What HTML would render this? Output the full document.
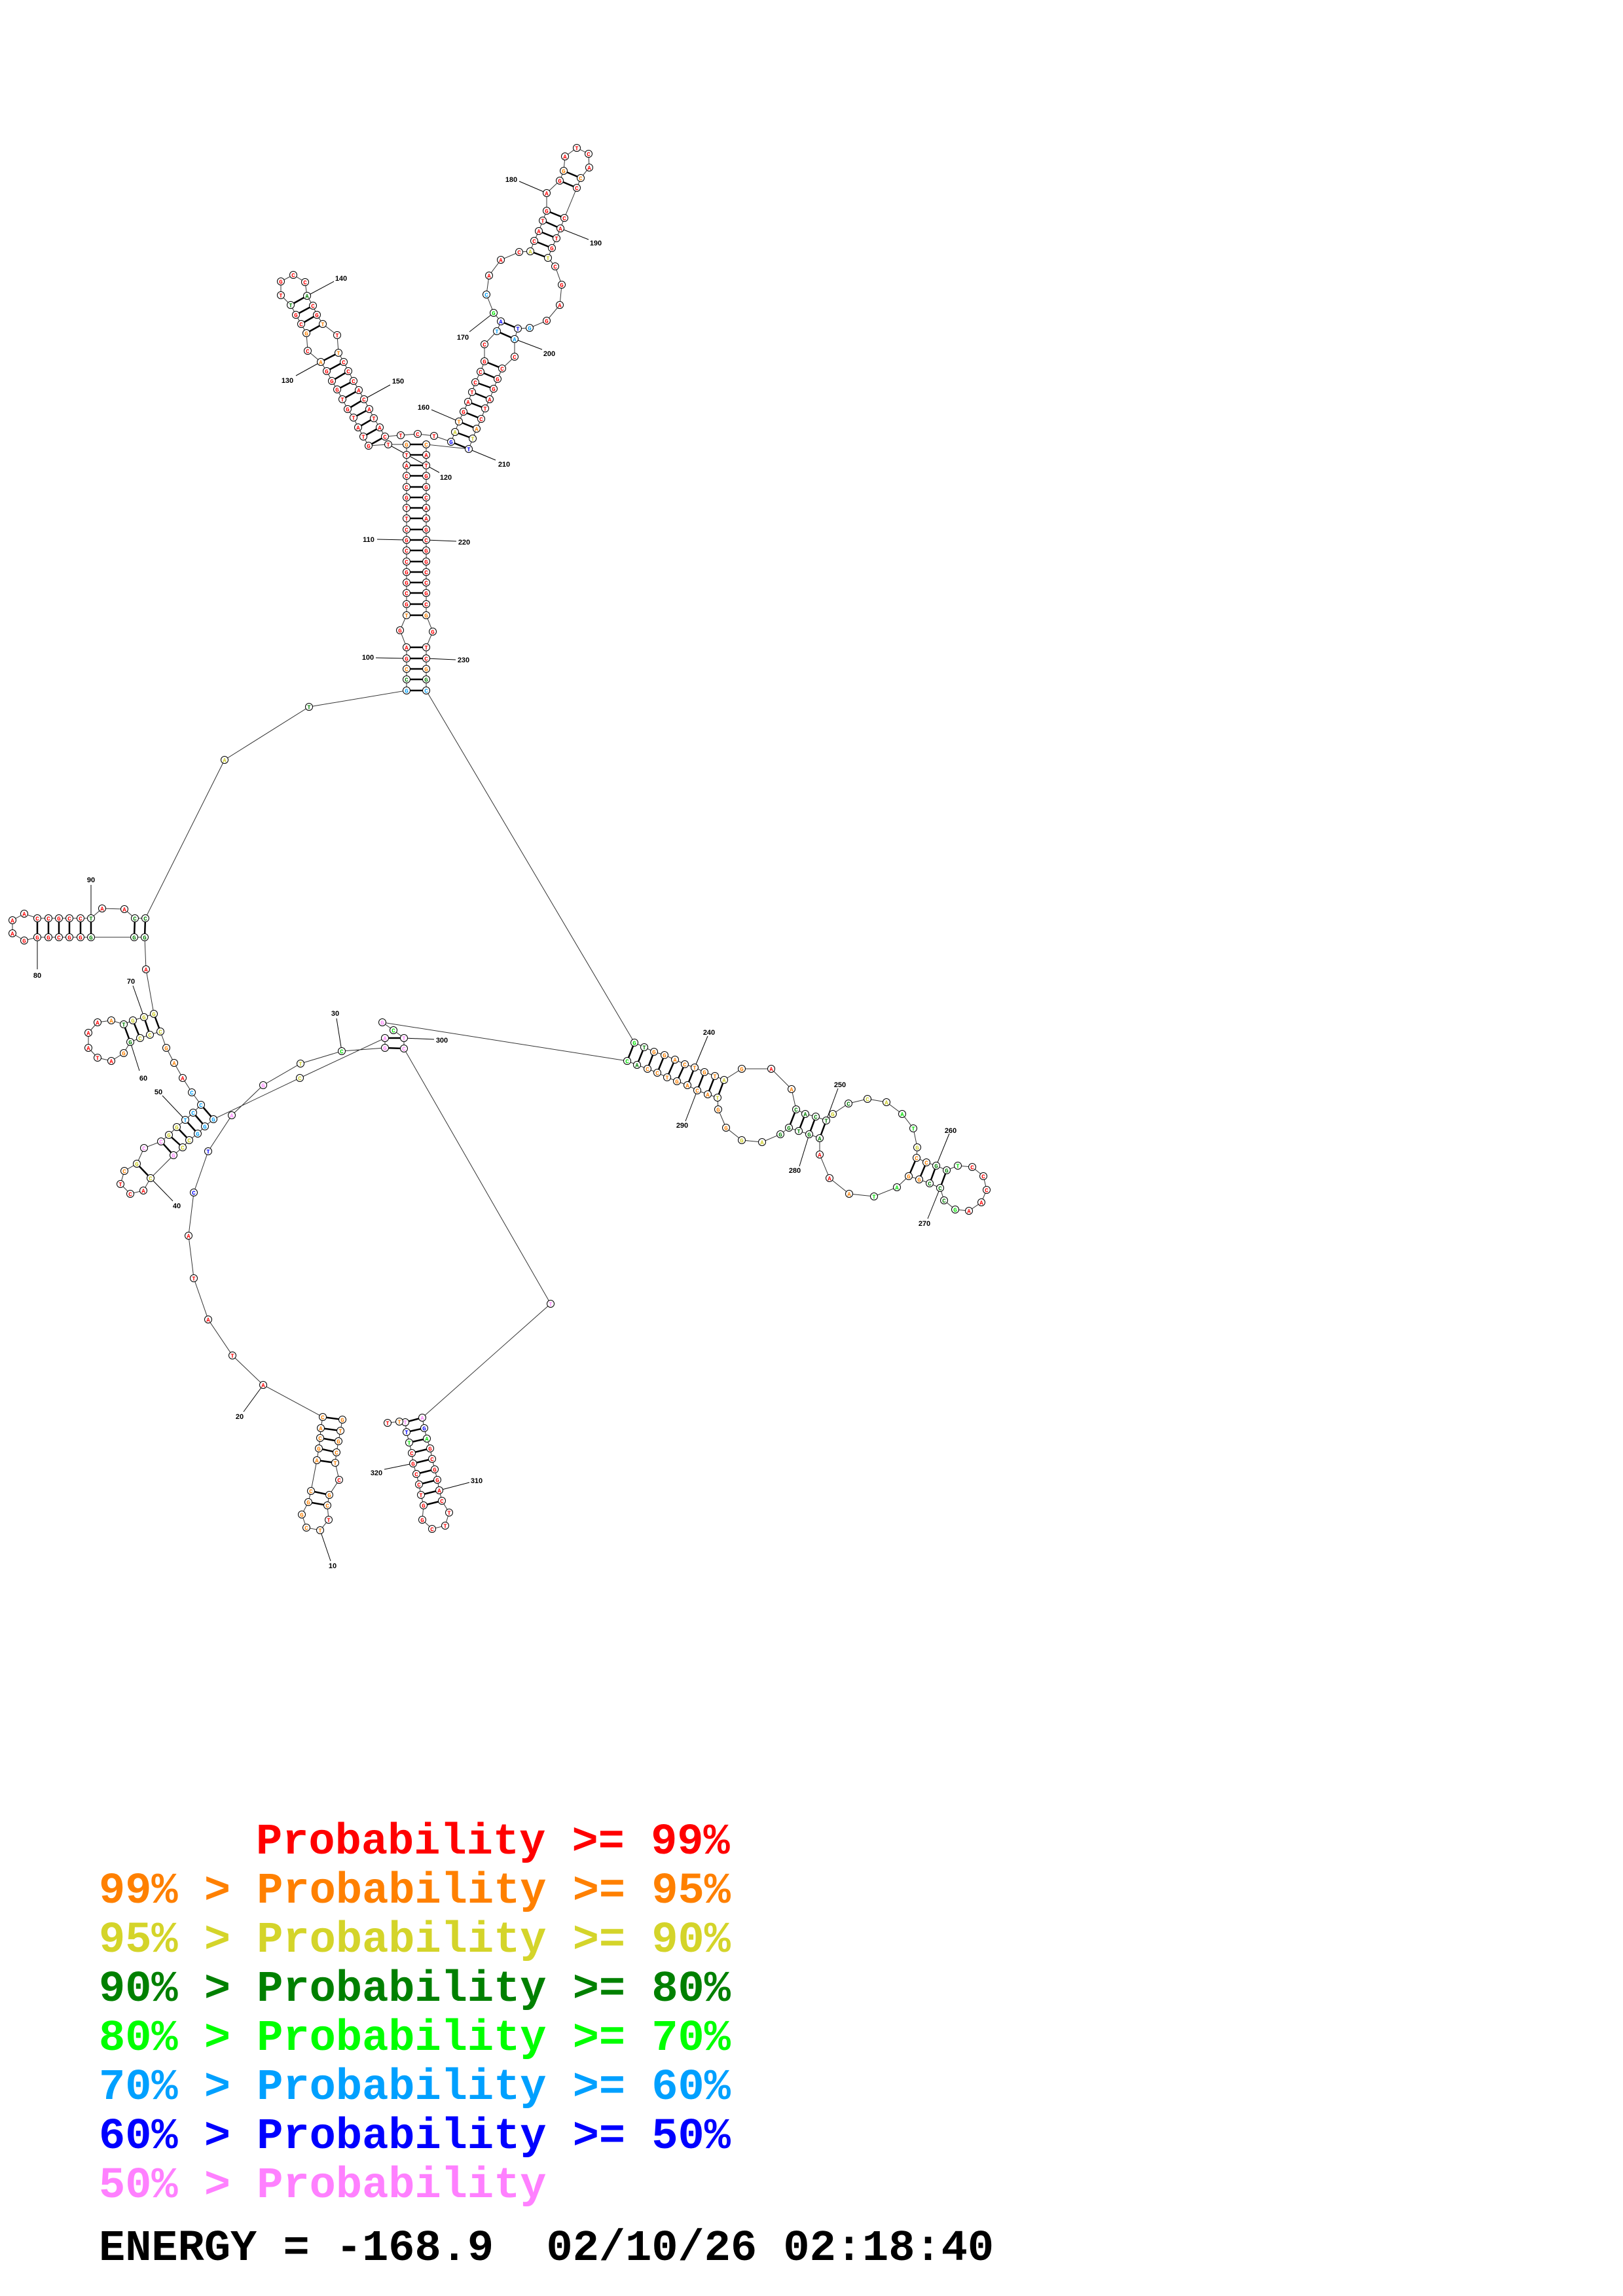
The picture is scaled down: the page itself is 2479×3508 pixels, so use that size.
<!DOCTYPE html>
<html><head><meta charset="utf-8"><style>
html,body{margin:0;padding:0;background:#fff}
svg{display:block}
circle{fill:#fff;stroke:#000;stroke-width:1}
.n text{font:bold 9px "Liberation Mono",monospace;text-anchor:middle}
.r{fill:#f00}.o{fill:#ff8000}.y{fill:#cccc22}.g{fill:#008000}.l{fill:#00e000}.b{fill:#00a0ff}.u{fill:#0000ff}.p{fill:#ff80ff}
.lb{font:bold 11px "Liberation Sans",sans-serif;text-anchor:middle;fill:#000}
.lg{font:bold 67px "Liberation Mono",monospace;white-space:pre}
</style></head><body>
<svg width="2479" height="3508" viewBox="0 0 2479 3508" xmlns="http://www.w3.org/2000/svg">
<polyline fill="none" stroke="#333" stroke-width="1" points="523,2169 520,2186 517,2202 514,2219 512,2235 518,2261 503,2284 500,2300 502,2322 489,2338 468,2334 461,2314 471,2295 475,2278 484,2231 487,2213 489,2197 490,2182 493,2165 402,2116 355,2071 318,2016 296,1953 288,1888 296,1822 318,1759 354,1704 402,1658 459,1625 522,1606 588,1601 588,1586 458,1647 326,1710 313,1721 302,1732 289,1742 279,1753 265,1765 230,1800 219,1819 199,1824 184,1809 190,1789 209,1778 220,1754 246,1744 258,1734 270,1722 283,1711 295,1700 307,1688 293,1669 279,1647 266,1624 254,1601 245,1576 229,1581 214,1586 199,1592 189,1609 170,1621 149,1616 135,1601 135,1578 149,1562 170,1559 189,1565 203,1559 220,1554 235,1549 223,1481 221,1432 205,1432 139,1432 123,1432 106,1432 90,1432 74,1432 57,1432 37,1437 19,1426 19,1406 37,1396 57,1403 74,1403 90,1403 106,1403 123,1403 139,1403 156,1388 190,1389 206,1403 222,1403 343,1161 472,1080 621,1055 621,1038 621,1022 621,1006 621,989 611,963 621,940 621,923 621,906 621,890 621,874 621,858 621,841 621,825 621,809 621,792 621,776 621,760 621,744 621,727 621,711 621,695 621,679 593,679 563,681 555,667 547,653 540,638 531,625 523,610 515,595 507,582 499,567 490,553 470,536 468,509 460,495 452,481 444,466 429,451 429,430 448,420 466,431 469,452 478,467 484,481 493,495 515,512 517,539 525,553 532,567 540,582 548,596 556,610 564,625 571,639 580,653 588,667 612,665 638,663 663,666 689,675 695,660 701,644 708,629 715,614 721,599 726,584 734,568 740,552 740,526 759,506 765,491 754,478 743,450 747,421 765,397 793,385 810,384 816,368 823,353 829,337 835,322 835,295 855,276 861,261 863,239 881,226 899,235 900,256 887,272 881,287 862,333 856,349 850,364 843,379 837,394 848,407 858,435 855,466 835,490 809,501 791,502 786,518 786,545 767,563 760,579 754,594 748,610 741,624 735,640 728,655 722,670 716,686 651,679 651,695 651,711 651,727 651,744 651,760 651,776 651,792 651,809 651,825 651,841 651,858 651,874 651,890 651,906 651,923 651,940 661,965 651,989 651,1006 651,1022 651,1038 651,1055 969,1593 984,1600 999,1607 1015,1612 1031,1619 1046,1626 1061,1631 1076,1638 1092,1644 1106,1650 1133,1633 1178,1633 1209,1664 1216,1695 1230,1702 1246,1706 1262,1712 1272,1702 1296,1686 1325,1679 1354,1684 1378,1702 1395,1724 1401,1753 1400,1769 1415,1776 1430,1781 1446,1788 1463,1781 1485,1783 1502,1797 1507,1818 1499,1837 1480,1850 1459,1848 1442,1834 1436,1815 1420,1808 1404,1802 1388,1797 1370,1814 1335,1828 1297,1824 1267,1800 1252,1764 1252,1739 1236,1733 1220,1728 1205,1723 1192,1733 1164,1745 1133,1742 1109,1723 1097,1695 1096,1677 1081,1672 1065,1666 1050,1658 1034,1652 1019,1646 1004,1639 989,1633 973,1627 958,1621 584,1562 601,1574 617,1586 617,1602 841,1992 645,2166 648,2182 652,2198 657,2213 660,2229 664,2245 668,2261 671,2277 675,2293 686,2311 680,2331 660,2336 645,2322 647,2300 643,2284 640,2268 636,2252 631,2236 629,2220 625,2204 621,2188 619,2173 610,2172 592,2174"/>
<g stroke="#000" stroke-width="2.5">
<line x1="493" y1="2165" x2="523" y2="2169"/><line x1="490" y1="2182" x2="520" y2="2186"/><line x1="489" y1="2197" x2="517" y2="2202"/><line x1="487" y1="2213" x2="514" y2="2219"/><line x1="484" y1="2231" x2="512" y2="2235"/><line x1="475" y1="2278" x2="503" y2="2284"/><line x1="471" y1="2295" x2="500" y2="2300"/>
<line x1="588" y1="1601" x2="617" y2="1602"/><line x1="588" y1="1586" x2="617" y2="1586"/>
<line x1="326" y1="1710" x2="307" y2="1688"/><line x1="313" y1="1721" x2="295" y2="1700"/><line x1="302" y1="1732" x2="283" y2="1711"/><line x1="289" y1="1742" x2="270" y2="1722"/><line x1="279" y1="1753" x2="258" y2="1734"/><line x1="265" y1="1765" x2="246" y2="1744"/><line x1="230" y1="1800" x2="209" y2="1778"/>
<line x1="245" y1="1576" x2="235" y2="1549"/><line x1="229" y1="1581" x2="220" y2="1554"/><line x1="214" y1="1586" x2="203" y2="1559"/><line x1="199" y1="1592" x2="189" y2="1565"/>
<line x1="221" y1="1432" x2="222" y2="1403"/><line x1="205" y1="1432" x2="206" y2="1403"/><line x1="139" y1="1432" x2="139" y2="1403"/><line x1="123" y1="1432" x2="123" y2="1403"/><line x1="106" y1="1432" x2="106" y2="1403"/><line x1="90" y1="1432" x2="90" y2="1403"/><line x1="74" y1="1432" x2="74" y2="1403"/><line x1="57" y1="1432" x2="57" y2="1403"/>
<line x1="621" y1="1055" x2="651" y2="1055"/><line x1="621" y1="1038" x2="651" y2="1038"/><line x1="621" y1="1022" x2="651" y2="1022"/><line x1="621" y1="1006" x2="651" y2="1006"/><line x1="621" y1="989" x2="651" y2="989"/>
<line x1="621" y1="940" x2="651" y2="940"/><line x1="621" y1="923" x2="651" y2="923"/><line x1="621" y1="906" x2="651" y2="906"/><line x1="621" y1="890" x2="651" y2="890"/><line x1="621" y1="874" x2="651" y2="874"/><line x1="621" y1="858" x2="651" y2="858"/><line x1="621" y1="841" x2="651" y2="841"/><line x1="621" y1="825" x2="651" y2="825"/><line x1="621" y1="809" x2="651" y2="809"/><line x1="621" y1="792" x2="651" y2="792"/><line x1="621" y1="776" x2="651" y2="776"/><line x1="621" y1="760" x2="651" y2="760"/><line x1="621" y1="744" x2="651" y2="744"/><line x1="621" y1="727" x2="651" y2="727"/><line x1="621" y1="711" x2="651" y2="711"/><line x1="621" y1="695" x2="651" y2="695"/><line x1="621" y1="679" x2="651" y2="679"/>
<line x1="563" y1="681" x2="588" y2="667"/><line x1="555" y1="667" x2="580" y2="653"/><line x1="547" y1="653" x2="571" y2="639"/><line x1="540" y1="638" x2="564" y2="625"/><line x1="531" y1="625" x2="556" y2="610"/><line x1="523" y1="610" x2="548" y2="596"/><line x1="515" y1="595" x2="540" y2="582"/><line x1="507" y1="582" x2="532" y2="567"/><line x1="499" y1="567" x2="525" y2="553"/><line x1="490" y1="553" x2="517" y2="539"/>
<line x1="468" y1="509" x2="493" y2="495"/><line x1="460" y1="495" x2="484" y2="481"/><line x1="452" y1="481" x2="478" y2="467"/><line x1="444" y1="466" x2="469" y2="452"/>
<line x1="689" y1="675" x2="716" y2="686"/><line x1="695" y1="660" x2="722" y2="670"/><line x1="701" y1="644" x2="728" y2="655"/><line x1="708" y1="629" x2="735" y2="640"/><line x1="715" y1="614" x2="741" y2="624"/><line x1="721" y1="599" x2="748" y2="610"/><line x1="726" y1="584" x2="754" y2="594"/><line x1="734" y1="568" x2="760" y2="579"/><line x1="740" y1="552" x2="767" y2="563"/>
<line x1="759" y1="506" x2="786" y2="518"/><line x1="765" y1="491" x2="791" y2="502"/>
<line x1="810" y1="384" x2="837" y2="394"/><line x1="816" y1="368" x2="843" y2="379"/><line x1="823" y1="353" x2="850" y2="364"/><line x1="829" y1="337" x2="856" y2="349"/><line x1="835" y1="322" x2="862" y2="333"/><line x1="855" y1="276" x2="881" y2="287"/><line x1="861" y1="261" x2="887" y2="272"/>
<line x1="969" y1="1593" x2="958" y2="1621"/><line x1="984" y1="1600" x2="973" y2="1627"/><line x1="999" y1="1607" x2="989" y2="1633"/><line x1="1015" y1="1612" x2="1004" y2="1639"/><line x1="1031" y1="1619" x2="1019" y2="1646"/><line x1="1046" y1="1626" x2="1034" y2="1652"/><line x1="1061" y1="1631" x2="1050" y2="1658"/><line x1="1076" y1="1638" x2="1065" y2="1666"/><line x1="1092" y1="1644" x2="1081" y2="1672"/><line x1="1106" y1="1650" x2="1096" y2="1677"/>
<line x1="1216" y1="1695" x2="1205" y2="1723"/><line x1="1230" y1="1702" x2="1220" y2="1728"/><line x1="1246" y1="1706" x2="1236" y2="1733"/><line x1="1262" y1="1712" x2="1252" y2="1739"/>
<line x1="1400" y1="1769" x2="1388" y2="1797"/><line x1="1415" y1="1776" x2="1404" y2="1802"/><line x1="1430" y1="1781" x2="1420" y2="1808"/><line x1="1446" y1="1788" x2="1436" y2="1815"/>
<line x1="645" y1="2166" x2="619" y2="2173"/><line x1="648" y1="2182" x2="621" y2="2188"/><line x1="652" y1="2198" x2="625" y2="2204"/><line x1="657" y1="2213" x2="629" y2="2220"/><line x1="660" y1="2229" x2="631" y2="2236"/><line x1="664" y1="2245" x2="636" y2="2252"/><line x1="668" y1="2261" x2="640" y2="2268"/><line x1="671" y1="2277" x2="643" y2="2284"/><line x1="675" y1="2293" x2="647" y2="2300"/>
</g>
<g stroke="#000" stroke-width="1">
<line x1="489" y1="2338" x2="505" y2="2385"/><line x1="402" y1="2116" x2="372" y2="2157"/><line x1="514" y1="1556" x2="522" y2="1606"/><line x1="230" y1="1800" x2="264" y2="1835"/><line x1="248" y1="1674" x2="283" y2="1711"/><line x1="199" y1="1592" x2="213" y2="1636"/><line x1="203" y1="1506" x2="220" y2="1554"/><line x1="57" y1="1432" x2="57" y2="1481"/><line x1="139" y1="1352" x2="139" y2="1403"/><line x1="574" y1="1005" x2="621" y2="1006"/><line x1="576" y1="824" x2="621" y2="825"/><line x1="593" y1="679" x2="671" y2="722"/><line x1="452" y1="574" x2="490" y2="553"/><line x1="510" y1="430" x2="469" y2="452"/><line x1="596" y1="588" x2="556" y2="610"/><line x1="659" y1="626" x2="701" y2="644"/><line x1="717" y1="507" x2="754" y2="478"/><line x1="793" y1="277" x2="835" y2="295"/><line x1="899" y1="366" x2="856" y2="349"/><line x1="828" y1="534" x2="786" y2="518"/><line x1="757" y1="703" x2="716" y2="686"/><line x1="651" y1="825" x2="697" y2="827"/><line x1="651" y1="1006" x2="696" y2="1008"/><line x1="1081" y1="1583" x2="1061" y2="1631"/><line x1="1280" y1="1663" x2="1262" y2="1712"/><line x1="1450" y1="1732" x2="1430" y2="1781"/><line x1="1417" y1="1862" x2="1436" y2="1815"/><line x1="1221" y1="1782" x2="1236" y2="1733"/><line x1="1047" y1="1713" x2="1065" y2="1666"/><line x1="617" y1="1586" x2="663" y2="1588"/><line x1="717" y1="2265" x2="671" y2="2277"/><line x1="587" y1="2245" x2="631" y2="2236"/>
</g>
<g class="lb">
<text x="508" y="2396">10</text><text x="366" y="2168">20</text><text x="512" y="1552">30</text><text x="270" y="1846">40</text><text x="242" y="1672">50</text><text x="219" y="1651">60</text><text x="200" y="1503">70</text><text x="57" y="1494">80</text><text x="139" y="1348">90</text><text x="562" y="1008">100</text><text x="563" y="828">110</text><text x="681" y="733">120</text><text x="439" y="585">130</text><text x="521" y="429">140</text><text x="608" y="586">150</text><text x="647" y="626">160</text><text x="707" y="519">170</text><text x="781" y="278">180</text><text x="910" y="375">190</text><text x="839" y="544">200</text><text x="770" y="713">210</text><text x="709" y="832">220</text><text x="708" y="1012">230</text><text x="1083" y="1581">240</text><text x="1283" y="1661">250</text><text x="1452" y="1731">260</text><text x="1412" y="1873">270</text><text x="1214" y="1792">280</text><text x="1042" y="1723">290</text><text x="675" y="1593">300</text><text x="728" y="2266">310</text><text x="575" y="2254">320</text>
</g>
<g class="n">
<circle cx="523" cy="2169" r="5.5"/><text x="523" y="2172.5" class="o">G</text>
<circle cx="520" cy="2186" r="5.5"/><text x="520" y="2189.5" class="o">T</text>
<circle cx="517" cy="2202" r="5.5"/><text x="517" y="2205.5" class="o">G</text>
<circle cx="514" cy="2219" r="5.5"/><text x="514" y="2222.5" class="o">C</text>
<circle cx="512" cy="2235" r="5.5"/><text x="512" y="2238.5" class="o">T</text>
<circle cx="518" cy="2261" r="5.5"/><text x="518" y="2264.5" class="r">C</text>
<circle cx="503" cy="2284" r="5.5"/><text x="503" y="2287.5" class="o">G</text>
<circle cx="500" cy="2300" r="5.5"/><text x="500" y="2303.5" class="o">C</text>
<circle cx="502" cy="2322" r="5.5"/><text x="502" y="2325.5" class="r">T</text>
<circle cx="489" cy="2338" r="5.5"/><text x="489" y="2341.5" class="o">T</text>
<circle cx="468" cy="2334" r="5.5"/><text x="468" y="2337.5" class="o">C</text>
<circle cx="461" cy="2314" r="5.5"/><text x="461" y="2317.5" class="o">G</text>
<circle cx="471" cy="2295" r="5.5"/><text x="471" y="2298.5" class="o">G</text>
<circle cx="475" cy="2278" r="5.5"/><text x="475" y="2281.5" class="o">C</text>
<circle cx="484" cy="2231" r="5.5"/><text x="484" y="2234.5" class="o">A</text>
<circle cx="487" cy="2213" r="5.5"/><text x="487" y="2216.5" class="o">G</text>
<circle cx="489" cy="2197" r="5.5"/><text x="489" y="2200.5" class="o">C</text>
<circle cx="490" cy="2182" r="5.5"/><text x="490" y="2185.5" class="o">A</text>
<circle cx="493" cy="2165" r="5.5"/><text x="493" y="2168.5" class="o">C</text>
<circle cx="402" cy="2116" r="5.5"/><text x="402" y="2119.5" class="r">A</text>
<circle cx="355" cy="2071" r="5.5"/><text x="355" y="2074.5" class="r">T</text>
<circle cx="318" cy="2016" r="5.5"/><text x="318" y="2019.5" class="r">A</text>
<circle cx="296" cy="1953" r="5.5"/><text x="296" y="1956.5" class="r">T</text>
<circle cx="288" cy="1888" r="5.5"/><text x="288" y="1891.5" class="r">A</text>
<circle cx="296" cy="1822" r="5.5"/><text x="296" y="1825.5" class="u">C</text>
<circle cx="318" cy="1759" r="5.5"/><text x="318" y="1762.5" class="u">T</text>
<circle cx="354" cy="1704" r="5.5"/><text x="354" y="1707.5" class="p">A</text>
<circle cx="402" cy="1658" r="5.5"/><text x="402" y="1661.5" class="p">G</text>
<circle cx="459" cy="1625" r="5.5"/><text x="459" y="1628.5" class="y">T</text>
<circle cx="522" cy="1606" r="5.5"/><text x="522" y="1609.5" class="l">C</text>
<circle cx="588" cy="1601" r="5.5"/><text x="588" y="1604.5" class="p">G</text>
<circle cx="588" cy="1586" r="5.5"/><text x="588" y="1589.5" class="p">A</text>
<circle cx="458" cy="1647" r="5.5"/><text x="458" y="1650.5" class="y">C</text>
<circle cx="326" cy="1710" r="5.5"/><text x="326" y="1713.5" class="b">G</text>
<circle cx="313" cy="1721" r="5.5"/><text x="313" y="1724.5" class="b">G</text>
<circle cx="302" cy="1732" r="5.5"/><text x="302" y="1735.5" class="b">G</text>
<circle cx="289" cy="1742" r="5.5"/><text x="289" y="1745.5" class="y">C</text>
<circle cx="279" cy="1753" r="5.5"/><text x="279" y="1756.5" class="y">C</text>
<circle cx="265" cy="1765" r="5.5"/><text x="265" y="1768.5" class="p">G</text>
<circle cx="230" cy="1800" r="5.5"/><text x="230" y="1803.5" class="y">C</text>
<circle cx="219" cy="1819" r="5.5"/><text x="219" y="1822.5" class="r">A</text>
<circle cx="199" cy="1824" r="5.5"/><text x="199" y="1827.5" class="r">C</text>
<circle cx="184" cy="1809" r="5.5"/><text x="184" y="1812.5" class="r">T</text>
<circle cx="190" cy="1789" r="5.5"/><text x="190" y="1792.5" class="o">C</text>
<circle cx="209" cy="1778" r="5.5"/><text x="209" y="1781.5" class="y">G</text>
<circle cx="220" cy="1754" r="5.5"/><text x="220" y="1757.5" class="p">C</text>
<circle cx="246" cy="1744" r="5.5"/><text x="246" y="1747.5" class="p">C</text>
<circle cx="258" cy="1734" r="5.5"/><text x="258" y="1737.5" class="y">G</text>
<circle cx="270" cy="1722" r="5.5"/><text x="270" y="1725.5" class="y">G</text>
<circle cx="283" cy="1711" r="5.5"/><text x="283" y="1714.5" class="b">T</text>
<circle cx="295" cy="1700" r="5.5"/><text x="295" y="1703.5" class="b">C</text>
<circle cx="307" cy="1688" r="5.5"/><text x="307" y="1691.5" class="b">C</text>
<circle cx="293" cy="1669" r="5.5"/><text x="293" y="1672.5" class="b">C</text>
<circle cx="279" cy="1647" r="5.5"/><text x="279" y="1650.5" class="r">A</text>
<circle cx="266" cy="1624" r="5.5"/><text x="266" y="1627.5" class="o">A</text>
<circle cx="254" cy="1601" r="5.5"/><text x="254" y="1604.5" class="o">G</text>
<circle cx="245" cy="1576" r="5.5"/><text x="245" y="1579.5" class="y">C</text>
<circle cx="229" cy="1581" r="5.5"/><text x="229" y="1584.5" class="y">C</text>
<circle cx="214" cy="1586" r="5.5"/><text x="214" y="1589.5" class="y">C</text>
<circle cx="199" cy="1592" r="5.5"/><text x="199" y="1595.5" class="g">G</text>
<circle cx="189" cy="1609" r="5.5"/><text x="189" y="1612.5" class="o">G</text>
<circle cx="170" cy="1621" r="5.5"/><text x="170" y="1624.5" class="r">A</text>
<circle cx="149" cy="1616" r="5.5"/><text x="149" y="1619.5" class="r">T</text>
<circle cx="135" cy="1601" r="5.5"/><text x="135" y="1604.5" class="r">A</text>
<circle cx="135" cy="1578" r="5.5"/><text x="135" y="1581.5" class="r">A</text>
<circle cx="149" cy="1562" r="5.5"/><text x="149" y="1565.5" class="r">A</text>
<circle cx="170" cy="1559" r="5.5"/><text x="170" y="1562.5" class="o">A</text>
<circle cx="189" cy="1565" r="5.5"/><text x="189" y="1568.5" class="g">T</text>
<circle cx="203" cy="1559" r="5.5"/><text x="203" y="1562.5" class="y">G</text>
<circle cx="220" cy="1554" r="5.5"/><text x="220" y="1557.5" class="y">G</text>
<circle cx="235" cy="1549" r="5.5"/><text x="235" y="1552.5" class="y">G</text>
<circle cx="223" cy="1481" r="5.5"/><text x="223" y="1484.5" class="r">A</text>
<circle cx="221" cy="1432" r="5.5"/><text x="221" y="1435.5" class="g">G</text>
<circle cx="205" cy="1432" r="5.5"/><text x="205" y="1435.5" class="g">G</text>
<circle cx="139" cy="1432" r="5.5"/><text x="139" y="1435.5" class="g">G</text>
<circle cx="123" cy="1432" r="5.5"/><text x="123" y="1435.5" class="r">G</text>
<circle cx="106" cy="1432" r="5.5"/><text x="106" y="1435.5" class="r">G</text>
<circle cx="90" cy="1432" r="5.5"/><text x="90" y="1435.5" class="r">C</text>
<circle cx="74" cy="1432" r="5.5"/><text x="74" y="1435.5" class="r">G</text>
<circle cx="57" cy="1432" r="5.5"/><text x="57" y="1435.5" class="r">G</text>
<circle cx="37" cy="1437" r="5.5"/><text x="37" y="1440.5" class="r">G</text>
<circle cx="19" cy="1426" r="5.5"/><text x="19" y="1429.5" class="r">A</text>
<circle cx="19" cy="1406" r="5.5"/><text x="19" y="1409.5" class="r">A</text>
<circle cx="37" cy="1396" r="5.5"/><text x="37" y="1399.5" class="r">A</text>
<circle cx="57" cy="1403" r="5.5"/><text x="57" y="1406.5" class="r">C</text>
<circle cx="74" cy="1403" r="5.5"/><text x="74" y="1406.5" class="r">C</text>
<circle cx="90" cy="1403" r="5.5"/><text x="90" y="1406.5" class="r">G</text>
<circle cx="106" cy="1403" r="5.5"/><text x="106" y="1406.5" class="r">C</text>
<circle cx="123" cy="1403" r="5.5"/><text x="123" y="1406.5" class="r">C</text>
<circle cx="139" cy="1403" r="5.5"/><text x="139" y="1406.5" class="g">T</text>
<circle cx="156" cy="1388" r="5.5"/><text x="156" y="1391.5" class="r">A</text>
<circle cx="190" cy="1389" r="5.5"/><text x="190" y="1392.5" class="r">A</text>
<circle cx="206" cy="1403" r="5.5"/><text x="206" y="1406.5" class="g">C</text>
<circle cx="222" cy="1403" r="5.5"/><text x="222" y="1406.5" class="g">C</text>
<circle cx="343" cy="1161" r="5.5"/><text x="343" y="1164.5" class="y">A</text>
<circle cx="472" cy="1080" r="5.5"/><text x="472" y="1083.5" class="g">T</text>
<circle cx="621" cy="1055" r="5.5"/><text x="621" y="1058.5" class="b">G</text>
<circle cx="621" cy="1038" r="5.5"/><text x="621" y="1041.5" class="g">C</text>
<circle cx="621" cy="1022" r="5.5"/><text x="621" y="1025.5" class="o">C</text>
<circle cx="621" cy="1006" r="5.5"/><text x="621" y="1009.5" class="r">G</text>
<circle cx="621" cy="989" r="5.5"/><text x="621" y="992.5" class="r">A</text>
<circle cx="611" cy="963" r="5.5"/><text x="611" y="966.5" class="r">G</text>
<circle cx="621" cy="940" r="5.5"/><text x="621" y="943.5" class="o">T</text>
<circle cx="621" cy="923" r="5.5"/><text x="621" y="926.5" class="r">G</text>
<circle cx="621" cy="906" r="5.5"/><text x="621" y="909.5" class="r">C</text>
<circle cx="621" cy="890" r="5.5"/><text x="621" y="893.5" class="r">G</text>
<circle cx="621" cy="874" r="5.5"/><text x="621" y="877.5" class="r">G</text>
<circle cx="621" cy="858" r="5.5"/><text x="621" y="861.5" class="r">C</text>
<circle cx="621" cy="841" r="5.5"/><text x="621" y="844.5" class="r">C</text>
<circle cx="621" cy="825" r="5.5"/><text x="621" y="828.5" class="r">G</text>
<circle cx="621" cy="809" r="5.5"/><text x="621" y="812.5" class="r">C</text>
<circle cx="621" cy="792" r="5.5"/><text x="621" y="795.5" class="r">T</text>
<circle cx="621" cy="776" r="5.5"/><text x="621" y="779.5" class="r">T</text>
<circle cx="621" cy="760" r="5.5"/><text x="621" y="763.5" class="r">G</text>
<circle cx="621" cy="744" r="5.5"/><text x="621" y="747.5" class="r">C</text>
<circle cx="621" cy="727" r="5.5"/><text x="621" y="730.5" class="r">C</text>
<circle cx="621" cy="711" r="5.5"/><text x="621" y="714.5" class="r">A</text>
<circle cx="621" cy="695" r="5.5"/><text x="621" y="698.5" class="r">T</text>
<circle cx="621" cy="679" r="5.5"/><text x="621" y="682.5" class="o">G</text>
<circle cx="593" cy="679" r="5.5"/><text x="593" y="682.5" class="r">T</text>
<circle cx="563" cy="681" r="5.5"/><text x="563" y="684.5" class="r">G</text>
<circle cx="555" cy="667" r="5.5"/><text x="555" y="670.5" class="r">T</text>
<circle cx="547" cy="653" r="5.5"/><text x="547" y="656.5" class="r">A</text>
<circle cx="540" cy="638" r="5.5"/><text x="540" y="641.5" class="r">T</text>
<circle cx="531" cy="625" r="5.5"/><text x="531" y="628.5" class="r">G</text>
<circle cx="523" cy="610" r="5.5"/><text x="523" y="613.5" class="r">T</text>
<circle cx="515" cy="595" r="5.5"/><text x="515" y="598.5" class="r">G</text>
<circle cx="507" cy="582" r="5.5"/><text x="507" y="585.5" class="r">G</text>
<circle cx="499" cy="567" r="5.5"/><text x="499" y="570.5" class="r">G</text>
<circle cx="490" cy="553" r="5.5"/><text x="490" y="556.5" class="o">A</text>
<circle cx="470" cy="536" r="5.5"/><text x="470" y="539.5" class="r">C</text>
<circle cx="468" cy="509" r="5.5"/><text x="468" y="512.5" class="o">G</text>
<circle cx="460" cy="495" r="5.5"/><text x="460" y="498.5" class="r">C</text>
<circle cx="452" cy="481" r="5.5"/><text x="452" y="484.5" class="r">G</text>
<circle cx="444" cy="466" r="5.5"/><text x="444" y="469.5" class="g">T</text>
<circle cx="429" cy="451" r="5.5"/><text x="429" y="454.5" class="r">T</text>
<circle cx="429" cy="430" r="5.5"/><text x="429" y="433.5" class="r">G</text>
<circle cx="448" cy="420" r="5.5"/><text x="448" y="423.5" class="r">C</text>
<circle cx="466" cy="431" r="5.5"/><text x="466" y="434.5" class="r">C</text>
<circle cx="469" cy="452" r="5.5"/><text x="469" y="455.5" class="g">A</text>
<circle cx="478" cy="467" r="5.5"/><text x="478" y="470.5" class="r">C</text>
<circle cx="484" cy="481" r="5.5"/><text x="484" y="484.5" class="r">G</text>
<circle cx="493" cy="495" r="5.5"/><text x="493" y="498.5" class="o">T</text>
<circle cx="515" cy="512" r="5.5"/><text x="515" y="515.5" class="r">T</text>
<circle cx="517" cy="539" r="5.5"/><text x="517" y="542.5" class="o">T</text>
<circle cx="525" cy="553" r="5.5"/><text x="525" y="556.5" class="r">C</text>
<circle cx="532" cy="567" r="5.5"/><text x="532" y="570.5" class="r">C</text>
<circle cx="540" cy="582" r="5.5"/><text x="540" y="585.5" class="r">C</text>
<circle cx="548" cy="596" r="5.5"/><text x="548" y="599.5" class="r">A</text>
<circle cx="556" cy="610" r="5.5"/><text x="556" y="613.5" class="r">C</text>
<circle cx="564" cy="625" r="5.5"/><text x="564" y="628.5" class="r">A</text>
<circle cx="571" cy="639" r="5.5"/><text x="571" y="642.5" class="r">T</text>
<circle cx="580" cy="653" r="5.5"/><text x="580" y="656.5" class="r">A</text>
<circle cx="588" cy="667" r="5.5"/><text x="588" y="670.5" class="r">C</text>
<circle cx="612" cy="665" r="5.5"/><text x="612" y="668.5" class="r">T</text>
<circle cx="638" cy="663" r="5.5"/><text x="638" y="666.5" class="r">C</text>
<circle cx="663" cy="666" r="5.5"/><text x="663" y="669.5" class="r">T</text>
<circle cx="689" cy="675" r="5.5"/><text x="689" y="678.5" class="u">G</text>
<circle cx="695" cy="660" r="5.5"/><text x="695" y="663.5" class="y">A</text>
<circle cx="701" cy="644" r="5.5"/><text x="701" y="647.5" class="o">T</text>
<circle cx="708" cy="629" r="5.5"/><text x="708" y="632.5" class="r">G</text>
<circle cx="715" cy="614" r="5.5"/><text x="715" y="617.5" class="r">A</text>
<circle cx="721" cy="599" r="5.5"/><text x="721" y="602.5" class="r">T</text>
<circle cx="726" cy="584" r="5.5"/><text x="726" y="587.5" class="r">C</text>
<circle cx="734" cy="568" r="5.5"/><text x="734" y="571.5" class="r">C</text>
<circle cx="740" cy="552" r="5.5"/><text x="740" y="555.5" class="r">G</text>
<circle cx="740" cy="526" r="5.5"/><text x="740" y="529.5" class="r">C</text>
<circle cx="759" cy="506" r="5.5"/><text x="759" y="509.5" class="b">T</text>
<circle cx="765" cy="491" r="5.5"/><text x="765" y="494.5" class="u">A</text>
<circle cx="754" cy="478" r="5.5"/><text x="754" y="481.5" class="l">G</text>
<circle cx="743" cy="450" r="5.5"/><text x="743" y="453.5" class="b">C</text>
<circle cx="747" cy="421" r="5.5"/><text x="747" y="424.5" class="r">A</text>
<circle cx="765" cy="397" r="5.5"/><text x="765" y="400.5" class="r">A</text>
<circle cx="793" cy="385" r="5.5"/><text x="793" y="388.5" class="r">C</text>
<circle cx="810" cy="384" r="5.5"/><text x="810" y="387.5" class="y">A</text>
<circle cx="816" cy="368" r="5.5"/><text x="816" y="371.5" class="r">C</text>
<circle cx="823" cy="353" r="5.5"/><text x="823" y="356.5" class="r">A</text>
<circle cx="829" cy="337" r="5.5"/><text x="829" y="340.5" class="r">T</text>
<circle cx="835" cy="322" r="5.5"/><text x="835" y="325.5" class="r">G</text>
<circle cx="835" cy="295" r="5.5"/><text x="835" y="298.5" class="r">A</text>
<circle cx="855" cy="276" r="5.5"/><text x="855" y="279.5" class="r">G</text>
<circle cx="861" cy="261" r="5.5"/><text x="861" y="264.5" class="o">G</text>
<circle cx="863" cy="239" r="5.5"/><text x="863" y="242.5" class="r">A</text>
<circle cx="881" cy="226" r="5.5"/><text x="881" y="229.5" class="r">T</text>
<circle cx="899" cy="235" r="5.5"/><text x="899" y="238.5" class="r">C</text>
<circle cx="900" cy="256" r="5.5"/><text x="900" y="259.5" class="r">A</text>
<circle cx="887" cy="272" r="5.5"/><text x="887" y="275.5" class="o">C</text>
<circle cx="881" cy="287" r="5.5"/><text x="881" y="290.5" class="r">C</text>
<circle cx="862" cy="333" r="5.5"/><text x="862" y="336.5" class="r">C</text>
<circle cx="856" cy="349" r="5.5"/><text x="856" y="352.5" class="r">A</text>
<circle cx="850" cy="364" r="5.5"/><text x="850" y="367.5" class="r">T</text>
<circle cx="843" cy="379" r="5.5"/><text x="843" y="382.5" class="r">G</text>
<circle cx="837" cy="394" r="5.5"/><text x="837" y="397.5" class="y">T</text>
<circle cx="848" cy="407" r="5.5"/><text x="848" y="410.5" class="r">C</text>
<circle cx="858" cy="435" r="5.5"/><text x="858" y="438.5" class="r">G</text>
<circle cx="855" cy="466" r="5.5"/><text x="855" y="469.5" class="r">A</text>
<circle cx="835" cy="490" r="5.5"/><text x="835" y="493.5" class="r">G</text>
<circle cx="809" cy="501" r="5.5"/><text x="809" y="504.5" class="b">G</text>
<circle cx="791" cy="502" r="5.5"/><text x="791" y="505.5" class="u">T</text>
<circle cx="786" cy="518" r="5.5"/><text x="786" y="521.5" class="b">A</text>
<circle cx="786" cy="545" r="5.5"/><text x="786" y="548.5" class="r">C</text>
<circle cx="767" cy="563" r="5.5"/><text x="767" y="566.5" class="r">C</text>
<circle cx="760" cy="579" r="5.5"/><text x="760" y="582.5" class="r">G</text>
<circle cx="754" cy="594" r="5.5"/><text x="754" y="597.5" class="r">G</text>
<circle cx="748" cy="610" r="5.5"/><text x="748" y="613.5" class="r">A</text>
<circle cx="741" cy="624" r="5.5"/><text x="741" y="627.5" class="r">T</text>
<circle cx="735" cy="640" r="5.5"/><text x="735" y="643.5" class="r">C</text>
<circle cx="728" cy="655" r="5.5"/><text x="728" y="658.5" class="o">A</text>
<circle cx="722" cy="670" r="5.5"/><text x="722" y="673.5" class="y">T</text>
<circle cx="716" cy="686" r="5.5"/><text x="716" y="689.5" class="u">T</text>
<circle cx="651" cy="679" r="5.5"/><text x="651" y="682.5" class="o">C</text>
<circle cx="651" cy="695" r="5.5"/><text x="651" y="698.5" class="r">A</text>
<circle cx="651" cy="711" r="5.5"/><text x="651" y="714.5" class="r">T</text>
<circle cx="651" cy="727" r="5.5"/><text x="651" y="730.5" class="r">G</text>
<circle cx="651" cy="744" r="5.5"/><text x="651" y="747.5" class="r">G</text>
<circle cx="651" cy="760" r="5.5"/><text x="651" y="763.5" class="r">C</text>
<circle cx="651" cy="776" r="5.5"/><text x="651" y="779.5" class="r">A</text>
<circle cx="651" cy="792" r="5.5"/><text x="651" y="795.5" class="r">A</text>
<circle cx="651" cy="809" r="5.5"/><text x="651" y="812.5" class="r">G</text>
<circle cx="651" cy="825" r="5.5"/><text x="651" y="828.5" class="r">C</text>
<circle cx="651" cy="841" r="5.5"/><text x="651" y="844.5" class="r">G</text>
<circle cx="651" cy="858" r="5.5"/><text x="651" y="861.5" class="r">G</text>
<circle cx="651" cy="874" r="5.5"/><text x="651" y="877.5" class="r">C</text>
<circle cx="651" cy="890" r="5.5"/><text x="651" y="893.5" class="r">C</text>
<circle cx="651" cy="906" r="5.5"/><text x="651" y="909.5" class="r">G</text>
<circle cx="651" cy="923" r="5.5"/><text x="651" y="926.5" class="r">C</text>
<circle cx="651" cy="940" r="5.5"/><text x="651" y="943.5" class="o">G</text>
<circle cx="661" cy="965" r="5.5"/><text x="661" y="968.5" class="r">G</text>
<circle cx="651" cy="989" r="5.5"/><text x="651" y="992.5" class="r">T</text>
<circle cx="651" cy="1006" r="5.5"/><text x="651" y="1009.5" class="r">C</text>
<circle cx="651" cy="1022" r="5.5"/><text x="651" y="1025.5" class="o">G</text>
<circle cx="651" cy="1038" r="5.5"/><text x="651" y="1041.5" class="g">G</text>
<circle cx="651" cy="1055" r="5.5"/><text x="651" y="1058.5" class="b">C</text>
<circle cx="969" cy="1593" r="5.5"/><text x="969" y="1596.5" class="l">G</text>
<circle cx="984" cy="1600" r="5.5"/><text x="984" y="1603.5" class="g">T</text>
<circle cx="999" cy="1607" r="5.5"/><text x="999" y="1610.5" class="o">G</text>
<circle cx="1015" cy="1612" r="5.5"/><text x="1015" y="1615.5" class="o">G</text>
<circle cx="1031" cy="1619" r="5.5"/><text x="1031" y="1622.5" class="o">A</text>
<circle cx="1046" cy="1626" r="5.5"/><text x="1046" y="1629.5" class="o">C</text>
<circle cx="1061" cy="1631" r="5.5"/><text x="1061" y="1634.5" class="o">T</text>
<circle cx="1076" cy="1638" r="5.5"/><text x="1076" y="1641.5" class="o">G</text>
<circle cx="1092" cy="1644" r="5.5"/><text x="1092" y="1647.5" class="o">T</text>
<circle cx="1106" cy="1650" r="5.5"/><text x="1106" y="1653.5" class="y">A</text>
<circle cx="1133" cy="1633" r="5.5"/><text x="1133" y="1636.5" class="o">G</text>
<circle cx="1178" cy="1633" r="5.5"/><text x="1178" y="1636.5" class="r">A</text>
<circle cx="1209" cy="1664" r="5.5"/><text x="1209" y="1667.5" class="o">A</text>
<circle cx="1216" cy="1695" r="5.5"/><text x="1216" y="1698.5" class="g">C</text>
<circle cx="1230" cy="1702" r="5.5"/><text x="1230" y="1705.5" class="g">A</text>
<circle cx="1246" cy="1706" r="5.5"/><text x="1246" y="1709.5" class="g">C</text>
<circle cx="1262" cy="1712" r="5.5"/><text x="1262" y="1715.5" class="g">T</text>
<circle cx="1272" cy="1702" r="5.5"/><text x="1272" y="1705.5" class="y">G</text>
<circle cx="1296" cy="1686" r="5.5"/><text x="1296" y="1689.5" class="g">C</text>
<circle cx="1325" cy="1679" r="5.5"/><text x="1325" y="1682.5" class="y">C</text>
<circle cx="1354" cy="1684" r="5.5"/><text x="1354" y="1687.5" class="y">A</text>
<circle cx="1378" cy="1702" r="5.5"/><text x="1378" y="1705.5" class="l">A</text>
<circle cx="1395" cy="1724" r="5.5"/><text x="1395" y="1727.5" class="l">T</text>
<circle cx="1401" cy="1753" r="5.5"/><text x="1401" y="1756.5" class="y">G</text>
<circle cx="1400" cy="1769" r="5.5"/><text x="1400" y="1772.5" class="o">C</text>
<circle cx="1415" cy="1776" r="5.5"/><text x="1415" y="1779.5" class="o">C</text>
<circle cx="1430" cy="1781" r="5.5"/><text x="1430" y="1784.5" class="g">G</text>
<circle cx="1446" cy="1788" r="5.5"/><text x="1446" y="1791.5" class="g">G</text>
<circle cx="1463" cy="1781" r="5.5"/><text x="1463" y="1784.5" class="l">T</text>
<circle cx="1485" cy="1783" r="5.5"/><text x="1485" y="1786.5" class="r">C</text>
<circle cx="1502" cy="1797" r="5.5"/><text x="1502" y="1800.5" class="r">C</text>
<circle cx="1507" cy="1818" r="5.5"/><text x="1507" y="1821.5" class="r">C</text>
<circle cx="1499" cy="1837" r="5.5"/><text x="1499" y="1840.5" class="r">A</text>
<circle cx="1480" cy="1850" r="5.5"/><text x="1480" y="1853.5" class="r">A</text>
<circle cx="1459" cy="1848" r="5.5"/><text x="1459" y="1851.5" class="l">G</text>
<circle cx="1442" cy="1834" r="5.5"/><text x="1442" y="1837.5" class="g">C</text>
<circle cx="1436" cy="1815" r="5.5"/><text x="1436" y="1818.5" class="g">C</text>
<circle cx="1420" cy="1808" r="5.5"/><text x="1420" y="1811.5" class="g">C</text>
<circle cx="1404" cy="1802" r="5.5"/><text x="1404" y="1805.5" class="o">G</text>
<circle cx="1388" cy="1797" r="5.5"/><text x="1388" y="1800.5" class="o">G</text>
<circle cx="1370" cy="1814" r="5.5"/><text x="1370" y="1817.5" class="l">A</text>
<circle cx="1335" cy="1828" r="5.5"/><text x="1335" y="1831.5" class="l">T</text>
<circle cx="1297" cy="1824" r="5.5"/><text x="1297" y="1827.5" class="o">A</text>
<circle cx="1267" cy="1800" r="5.5"/><text x="1267" y="1803.5" class="r">A</text>
<circle cx="1252" cy="1764" r="5.5"/><text x="1252" y="1767.5" class="r">A</text>
<circle cx="1252" cy="1739" r="5.5"/><text x="1252" y="1742.5" class="g">A</text>
<circle cx="1236" cy="1733" r="5.5"/><text x="1236" y="1736.5" class="g">G</text>
<circle cx="1220" cy="1728" r="5.5"/><text x="1220" y="1731.5" class="g">T</text>
<circle cx="1205" cy="1723" r="5.5"/><text x="1205" y="1726.5" class="g">G</text>
<circle cx="1192" cy="1733" r="5.5"/><text x="1192" y="1736.5" class="g">G</text>
<circle cx="1164" cy="1745" r="5.5"/><text x="1164" y="1748.5" class="y">A</text>
<circle cx="1133" cy="1742" r="5.5"/><text x="1133" y="1745.5" class="y">G</text>
<circle cx="1109" cy="1723" r="5.5"/><text x="1109" y="1726.5" class="o">G</text>
<circle cx="1097" cy="1695" r="5.5"/><text x="1097" y="1698.5" class="o">G</text>
<circle cx="1096" cy="1677" r="5.5"/><text x="1096" y="1680.5" class="y">T</text>
<circle cx="1081" cy="1672" r="5.5"/><text x="1081" y="1675.5" class="o">A</text>
<circle cx="1065" cy="1666" r="5.5"/><text x="1065" y="1669.5" class="o">C</text>
<circle cx="1050" cy="1658" r="5.5"/><text x="1050" y="1661.5" class="o">A</text>
<circle cx="1034" cy="1652" r="5.5"/><text x="1034" y="1655.5" class="o">G</text>
<circle cx="1019" cy="1646" r="5.5"/><text x="1019" y="1649.5" class="o">T</text>
<circle cx="1004" cy="1639" r="5.5"/><text x="1004" y="1642.5" class="o">C</text>
<circle cx="989" cy="1633" r="5.5"/><text x="989" y="1636.5" class="o">C</text>
<circle cx="973" cy="1627" r="5.5"/><text x="973" y="1630.5" class="g">A</text>
<circle cx="958" cy="1621" r="5.5"/><text x="958" y="1624.5" class="l">C</text>
<circle cx="584" cy="1562" r="5.5"/><text x="584" y="1565.5" class="p">G</text>
<circle cx="601" cy="1574" r="5.5"/><text x="601" y="1577.5" class="l">C</text>
<circle cx="617" cy="1586" r="5.5"/><text x="617" y="1589.5" class="p">T</text>
<circle cx="617" cy="1602" r="5.5"/><text x="617" y="1605.5" class="p">C</text>
<circle cx="841" cy="1992" r="5.5"/><text x="841" y="1995.5" class="p">T</text>
<circle cx="645" cy="2166" r="5.5"/><text x="645" y="2169.5" class="p">A</text>
<circle cx="648" cy="2182" r="5.5"/><text x="648" y="2185.5" class="u">G</text>
<circle cx="652" cy="2198" r="5.5"/><text x="652" y="2201.5" class="l">A</text>
<circle cx="657" cy="2213" r="5.5"/><text x="657" y="2216.5" class="r">G</text>
<circle cx="660" cy="2229" r="5.5"/><text x="660" y="2232.5" class="r">C</text>
<circle cx="664" cy="2245" r="5.5"/><text x="664" y="2248.5" class="r">G</text>
<circle cx="668" cy="2261" r="5.5"/><text x="668" y="2264.5" class="r">G</text>
<circle cx="671" cy="2277" r="5.5"/><text x="671" y="2280.5" class="r">A</text>
<circle cx="675" cy="2293" r="5.5"/><text x="675" y="2296.5" class="r">C</text>
<circle cx="686" cy="2311" r="5.5"/><text x="686" y="2314.5" class="r">T</text>
<circle cx="680" cy="2331" r="5.5"/><text x="680" y="2334.5" class="r">T</text>
<circle cx="660" cy="2336" r="5.5"/><text x="660" y="2339.5" class="r">C</text>
<circle cx="645" cy="2322" r="5.5"/><text x="645" y="2325.5" class="r">G</text>
<circle cx="647" cy="2300" r="5.5"/><text x="647" y="2303.5" class="r">G</text>
<circle cx="643" cy="2284" r="5.5"/><text x="643" y="2287.5" class="r">T</text>
<circle cx="640" cy="2268" r="5.5"/><text x="640" y="2271.5" class="r">C</text>
<circle cx="636" cy="2252" r="5.5"/><text x="636" y="2255.5" class="r">C</text>
<circle cx="631" cy="2236" r="5.5"/><text x="631" y="2239.5" class="r">G</text>
<circle cx="629" cy="2220" r="5.5"/><text x="629" y="2223.5" class="r">C</text>
<circle cx="625" cy="2204" r="5.5"/><text x="625" y="2207.5" class="l">T</text>
<circle cx="621" cy="2188" r="5.5"/><text x="621" y="2191.5" class="u">T</text>
<circle cx="619" cy="2173" r="5.5"/><text x="619" y="2176.5" class="p">T</text>
<circle cx="610" cy="2172" r="5.5"/><text x="610" y="2175.5" class="o">T</text>
<circle cx="592" cy="2174" r="5.5"/><text x="592" y="2177.5" class="r">T</text>
</g>
<g class="lg" xml:space="preserve">
<text x="391" y="2832" fill="#ff0000">Probability &gt;= 99%</text>
<text x="151" y="2907" fill="#ff8000">99% &gt; Probability &gt;= 95%</text>
<text x="151" y="2982" fill="#d4d42a">95% &gt; Probability &gt;= 90%</text>
<text x="151" y="3057" fill="#008000">90% &gt; Probability &gt;= 80%</text>
<text x="151" y="3132" fill="#00ff00">80% &gt; Probability &gt;= 70%</text>
<text x="151" y="3207" fill="#00a0ff">70% &gt; Probability &gt;= 60%</text>
<text x="151" y="3282" fill="#0000ff">60% &gt; Probability &gt;= 50%</text>
<text x="151" y="3357" fill="#ff80ff">50% &gt; Probability</text>
<text x="151" y="3453" fill="#000000">ENERGY = -168.9 &#160;02/10/26 02:18:40</text>
</g>
</svg>
</body></html>
